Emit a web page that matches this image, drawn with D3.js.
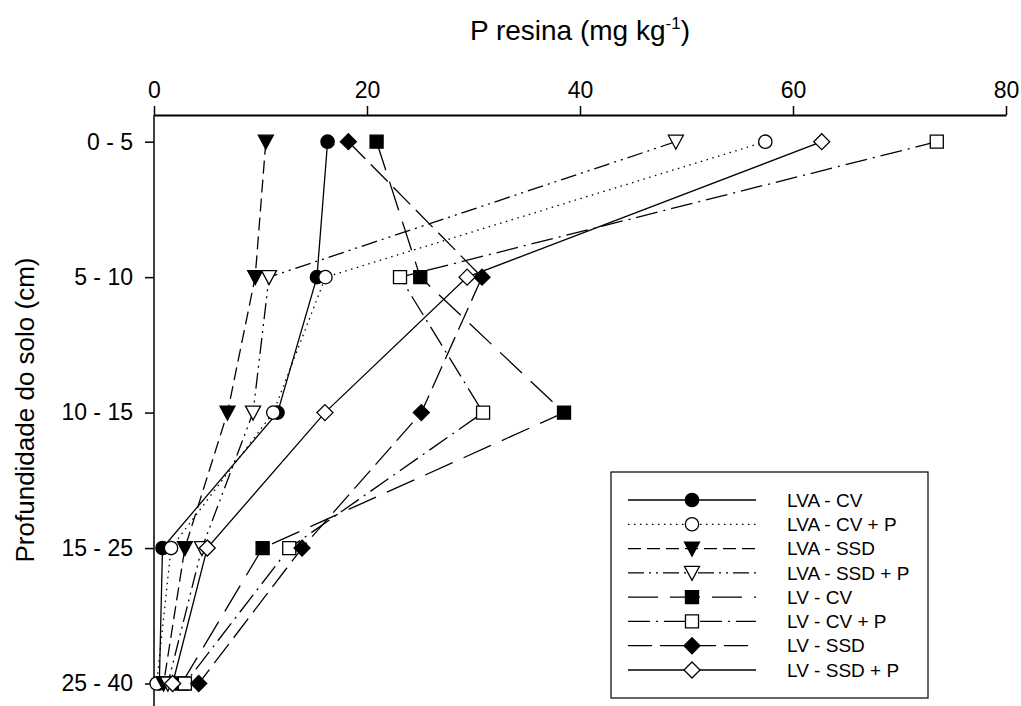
<!DOCTYPE html>
<html>
<head>
  <meta charset="utf-8" />
  <title>P resina</title>
  <style type="text/css">
    body { margin: 0; background: #fff; }
    svg text { font-family: Arial, 'Liberation Sans', sans-serif; fill: #000; }
  </style>
</head>
<body>
  <div id="graph1"></div>

  <script src="https://d3js.org/d3.v7.min.js"></script>
  <script>
  // depth classes (rows) and tick values
  var depths = ['0 - 5', '5 - 10', '10 - 15', '15 - 25', '25 - 40'];
  var xTicks = [0, 20, 40, 60, 80];

  // P resina values per treatment, one per depth
  var lvaCv     = [16.3, 15.3, 11.6, 0.8, 0.5];
  var lvaCvP    = [57.4, 16.1, 11.2, 1.6, 0.25];
  var lvaSsd    = [10.5,  9.5,  6.9, 2.9, 0.9];
  var lvaSsdP   = [49.0, 10.8,  9.3, 4.5, 1.3];
  var lvCv      = [20.9, 25.0, 38.5, 10.2, 2.6];
  var lvCvP     = [73.5, 23.1, 30.9, 12.7, 2.9];
  var lvSsd     = [18.25, 30.8, 25.1, 13.9, 4.2];
  var lvSsdP    = [62.7, 29.4, 16.05, 5.0, 1.75];

  var names = ['LVA - CV', 'LVA - CV + P', 'LVA - SSD', 'LVA - SSD + P',
               'LV - CV', 'LV - CV + P', 'LV - SSD', 'LV - SSD + P'];

  var series = [
    {name: names[0], values: lvaCv,   shape: 'circle',   fill: true,  dash: null},
    {name: names[1], values: lvaCvP,  shape: 'circle',   fill: false, dash: '1.5,4.5'},
    {name: names[2], values: lvaSsd,  shape: 'triangle', fill: true,  dash: '13,6'},
    {name: names[3], values: lvaSsdP, shape: 'triangle', fill: false, dash: '16,5,2,5,2,5'},
    {name: names[4], values: lvCv,    shape: 'square',   fill: true,  dash: '30,12'},
    {name: names[5], values: lvCvP,   shape: 'square',   fill: false, dash: '22,6,2,6'},
    {name: names[6], values: lvSsd,   shape: 'diamond',  fill: true,  dash: '24,8'},
    {name: names[7], values: lvSsdP,  shape: 'diamond',  fill: false, dash: null}
  ];

  var width = 1021, height = 706;
  var left = 154, right = 1006, axisY = 115;

  var svg = d3.select('#graph1').append('svg')
    .attr('width', width).attr('height', height);

  var x = d3.scaleLinear().domain([0, 80]).range([left, right]);
  var y = d3.scalePoint().domain(depths).range([141.7, 683.5]);

  // marker path by shape
  var symbols = {
    circle: d3.symbol().type(d3.symbolCircle).size(140),
    square: d3.symbol().type(d3.symbolSquare).size(170),
    diamond: function () {
      var r = 8;
      return 'M0,' + (-r) + 'L' + r + ',0L0,' + r + 'L' + (-r) + ',0Z';
    },
    triangle: function () {
      return 'M-7.5,-6.5L7.5,-6.5L0,7.5Z';
    }
  };

  // top x axis
  var xAxis = svg.append('g')
    .attr('transform', 'translate(0,' + axisY + ')')
    .call(d3.axisTop(x).tickValues(xTicks).tickSize(9).tickPadding(8).tickSizeOuter(0));
  xAxis.select('.domain').attr('stroke-width', 2);
  xAxis.selectAll('.tick line').attr('stroke-width', 1.5);
  xAxis.selectAll('text').style('font-size', '23px');

  // left y axis
  var yAxis = svg.append('g')
    .attr('transform', 'translate(' + left + ',0)')
    .call(d3.axisLeft(y).tickSize(9).tickPadding(12).tickSizeOuter(0));
  yAxis.select('.domain').attr('d', 'M0,' + axisY + 'V' + height).attr('stroke-width', 1.5);
  yAxis.selectAll('.tick line').attr('stroke-width', 1.5);
  yAxis.selectAll('text').style('font-size', '23px');

  // axis titles
  var title = svg.append('text')
    .attr('x', (left + right) / 2).attr('y', 40)
    .attr('text-anchor', 'middle').style('font-size', '28px');
  title.append('tspan').text('P resina (mg kg');
  title.append('tspan').attr('dy', -11).style('font-size', '17px').text('-1');
  title.append('tspan').attr('dy', 11).text(')');

  svg.append('text')
    .attr('transform', 'translate(34,410) rotate(-90)')
    .attr('text-anchor', 'middle').style('font-size', '26px')
    .text('Profundidade do solo (cm)');

  var line = d3.line()
    .x(function (d) { return x(d.v); })
    .y(function (d) { return y(d.depth); });

  // lines first, then markers
  series.forEach(function (s) {
    var pts = s.values.map(function (v, i) { return {v: v, depth: depths[i]}; });
    svg.append('path')
      .datum(pts)
      .attr('d', line)
      .attr('fill', 'none')
      .attr('stroke', '#000')
      .attr('stroke-width', 1.3)
      .attr('stroke-dasharray', s.dash);
  });

  series.forEach(function (s) {
    var pts = s.values.map(function (v, i) { return {v: v, depth: depths[i]}; });
    svg.append('g').selectAll('path')
      .data(pts).enter().append('path')
      .attr('transform', function (d) { return 'translate(' + x(d.v) + ',' + y(d.depth) + ')'; })
      .attr('d', symbols[s.shape])
      .attr('fill', s.fill ? '#000' : '#fff')
      .attr('stroke', '#000')
      .attr('stroke-width', 1.3);
  });

  // legend
  var lg = svg.append('g');
  lg.append('rect')
    .attr('x', 611).attr('y', 472).attr('width', 317).attr('height', 226)
    .attr('fill', '#fff').attr('stroke', '#000').attr('stroke-width', 1.2);

  var ly = d3.scalePoint().domain(names).range([500, 670]);

  var rows = lg.selectAll('g.row').data(series).enter().append('g')
    .attr('class', 'row')
    .attr('transform', function (d) { return 'translate(0,' + ly(d.name) + ')'; });

  rows.append('line')
    .attr('x1', 628).attr('x2', 756).attr('y1', 0).attr('y2', 0)
    .attr('stroke', '#000').attr('stroke-width', 1.3)
    .attr('stroke-dasharray', function (d) { return d.dash; });

  rows.append('path')
    .attr('transform', 'translate(692,0)')
    .attr('d', function (d) { return symbols[d.shape](); })
    .attr('fill', function (d) { return d.fill ? '#000' : '#fff'; })
    .attr('stroke', '#000').attr('stroke-width', 1.3);

  rows.append('text')
    .attr('x', 787).attr('y', 0).attr('dy', '0.35em')
    .style('font-size', '19px')
    .text(function (d) { return d.name; });
  </script>
</body>
</html>
